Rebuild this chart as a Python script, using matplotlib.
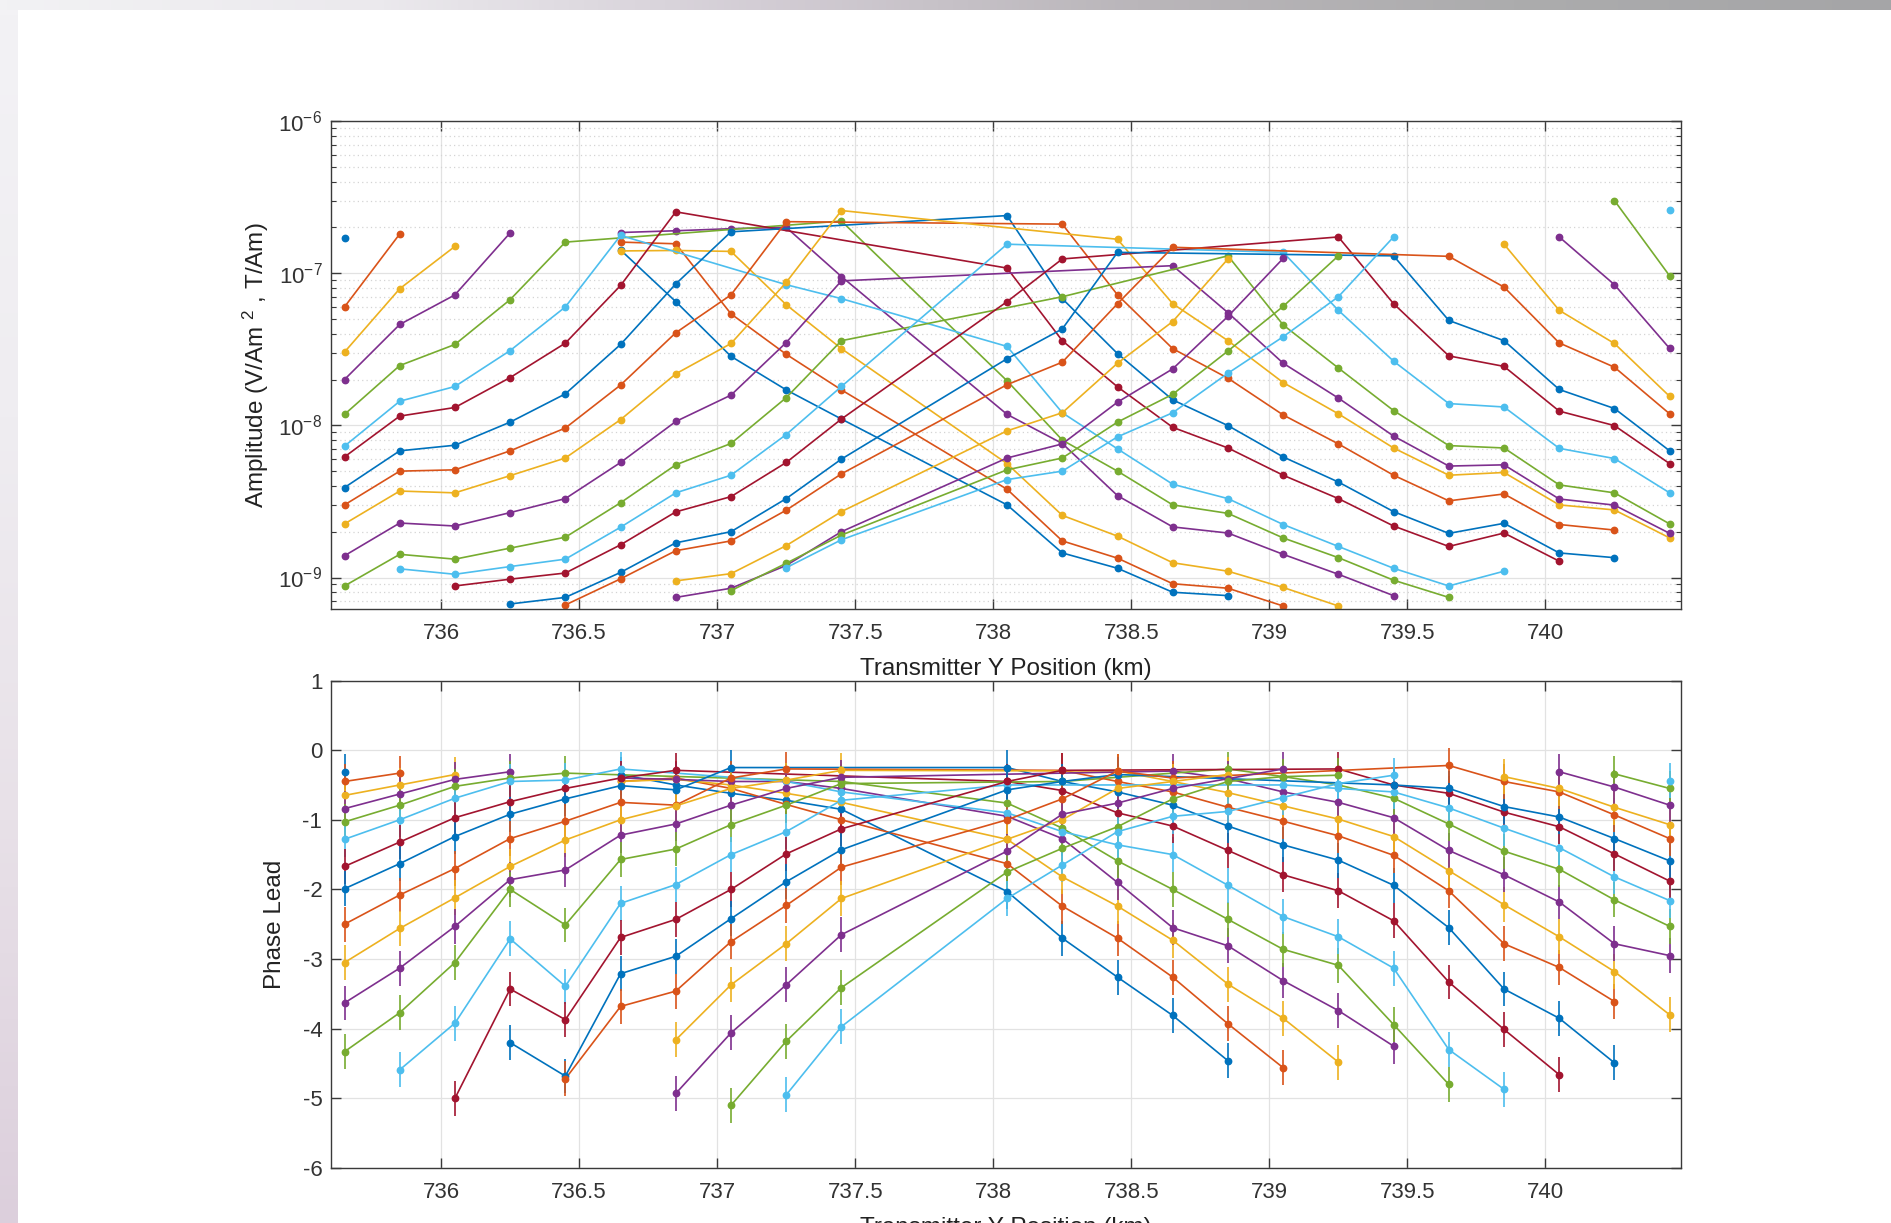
import numpy as np
import matplotlib
matplotlib.use('Agg')
import matplotlib.pyplot as plt
from matplotlib.colors import LinearSegmentedColormap
from matplotlib.ticker import FixedLocator, LogLocator, NullFormatter, StrMethodFormatter

plt.rcParams['font.family'] = ['Liberation Sans', 'DejaVu Sans']
plt.rcParams['mathtext.fontset'] = 'custom'
plt.rcParams['mathtext.rm'] = 'Liberation Sans'
plt.rcParams['mathtext.it'] = 'Liberation Sans:italic'
plt.rcParams['axes.unicode_minus'] = False

# transmitter positions (km)
positions = [735.65, 735.85, 736.05, 736.25, 736.45, 736.65, 736.85, 737.05, 737.25, 737.45,
             738.05, 738.25, 738.45, 738.65, 738.85, 739.05, 739.25, 739.45, 739.65, 739.85,
             740.05, 740.25, 740.45]

# MATLAB default colour order
colors = ['#0072BD', '#D95319', '#EDB120', '#7E2F8E', '#77AC30', '#4DBEEE', '#A2142F']

N = None
# amplitude, one row per receiver, in units of 1e-9
amplitude = [
    [170, N, N, N, N, 142, 65, 28.4, 17.1, 11.0, 3.0, 1.45, 1.15, 0.80, 0.76, N, N, N, N, N, N, N, N],
    [60, 181, N, N, N, 160, 156, 54, 29.3, 17.1, 3.8, 1.74, 1.34, 0.91, 0.85, 0.65, N, N, N, N, N, N, N],
    [30.3, 79, 150, N, N, 140, 141, 139, 62, 31.9, 5.6, 2.56, 1.87, 1.25, 1.10, 0.86, 0.65, N, N, N, N, N, N],
    [20, 46, 72, 184, N, 185, 190, 196, 200, 95, 11.8, 7.6, 3.45, 2.15, 1.96, 1.42, 1.05, 0.76, N, N, N, N, N],
    [11.8, 24.7, 34, 67, 160, N, N, N, N, 220, 19.6, 8.0, 5.0, 3.0, 2.64, 1.82, 1.35, 0.96, 0.74, N, N, N, N],
    [7.3, 14.4, 18, 31, 60, 177, N, N, 84, 68, 33, 12.1, 7.0, 4.1, 3.3, 2.23, 1.6, 1.15, 0.88, 1.1, N, N, N],
    [6.2, 11.5, 13.1, 20.6, 34.7, 83, 253, N, N, N, 108, 36, 17.9, 9.7, 7.1, 4.7, 3.3, 2.18, 1.6, 1.96, 1.28, N, N],
    [3.9, 6.8, 7.4, 10.5, 16.1, 34, 85, 187, N, N, 239, 68, 29.6, 14.7, 9.96, 6.2, 4.24, 2.71, 1.95, 2.27, 1.45, 1.35, N],
    [3.0, 5.0, 5.1, 6.8, 9.6, 18.4, 40.6, 72, 218, N, N, 210, 72, 31.9, 20.4, 11.7, 7.55, 4.7, 3.19, 3.54, 2.23, 2.05, N],
    [2.25, 3.7, 3.6, 4.67, 6.1, 10.9, 21.8, 34.5, 87, 258, N, N, 167, 63, 36, 19.1, 11.9, 7.1, 4.7, 4.9, 3.0, 2.78, 1.82],
    [1.39, 2.28, 2.18, 2.67, 3.3, 5.7, 10.6, 15.8, 35, 89, N, N, N, 112, 55, 25.6, 15.1, 8.5, 5.4, 5.5, 3.28, 2.99, 1.95],
    [0.88, 1.42, 1.32, 1.56, 1.84, 3.1, 5.5, 7.6, 15.2, 36, N, 70, N, N, 130, 45.7, 23.8, 12.5, 7.36, 7.1, 4.06, 3.6, 2.25],
    [N, 1.14, 1.05, 1.18, 1.32, 2.14, 3.6, 4.7, 8.7, 18, 155, N, N, N, N, 137, 57, 26.4, 13.9, 13.2, 7.06, 6.05, 3.6],
    [N, N, 0.88, 0.975, 1.07, 1.64, 2.7, 3.4, 5.7, 11, 65, 124, N, N, N, N, 173, 63, 28.6, 24.4, 12.4, 9.96, 5.6],
    [N, N, N, 0.67, 0.74, 1.08, 1.69, 2.0, 3.3, 6.0, 27.4, 43, 137, N, N, N, N, 130, 48.9, 36, 17.2, 12.9, 6.8],
    [N, N, N, N, 0.66, 0.98, 1.5, 1.74, 2.77, 4.8, 18.5, 26, 63, 148, N, N, N, N, 129, 81, 34.8, 24.1, 11.9],
    [N, N, N, N, N, N, 0.95, 1.06, 1.62, 2.71, 9.2, 12.1, 25.6, 48.1, 124, N, N, N, N, 155, 57, 34.5, 15.5],
    [N, N, N, N, N, N, 0.74, 0.85, 1.2, 2.0, 6.1, 7.55, 14.2, 23.5, 52, 125, N, N, N, N, 173, 84, 32],
    [N, N, N, N, N, N, N, 0.82, 1.24, 1.9, 5.1, 6.1, 10.5, 16, 30.8, 60.5, 130, N, N, N, N, 300, 96],
    [N, N, N, N, N, N, N, N, 1.16, 1.77, 4.4, 5.0, 8.4, 12.1, 22, 38.2, 70, 173, N, N, N, N, 260],
]

# phase lead, same receivers
phase = [
    [-0.31, N, N, N, N, -0.35, -0.5, -0.62, -0.72, -0.85, -2.03, -2.7, -3.26, -3.81, -4.46, N, N, N, N, N, N, N, N],
    [-0.45, -0.33, N, N, N, -0.45, -0.4, -0.55, -0.78, -1.0, -1.63, -2.24, -2.7, -3.26, -3.93, -4.56, N, N, N, N, N, N, N],
    [-0.65, -0.5, -0.35, N, N, -0.45, -0.42, -0.5, -0.62, -0.75, -1.28, -1.82, -2.24, -2.73, -3.36, -3.85, -4.48, N, N, N, N, N, N],
    [-0.84, -0.63, -0.42, -0.31, N, -0.4, -0.42, -0.45, -0.45, -0.55, -0.95, -1.27, -1.9, -2.55, -2.81, -3.31, -3.74, -4.25, N, N, N, N, N],
    [-1.03, -0.79, -0.52, -0.4, -0.33, N, N, N, N, -0.45, -0.76, -1.12, -1.59, -2.0, -2.43, -2.86, -3.09, -3.94, -4.8, N, N, N, N],
    [-1.28, -1.0, -0.69, -0.45, -0.43, -0.27, N, N, -0.45, -0.6, -0.9, -1.17, -1.36, -1.5, -1.94, -2.39, -2.68, -3.13, -4.3, -4.87, N, N, N],
    [-1.67, -1.32, -0.97, -0.74, -0.55, -0.4, -0.29, N, N, N, -0.45, -0.58, -0.9, -1.09, -1.44, -1.79, -2.02, -2.45, -3.33, -4.01, -4.66, N, N],
    [-1.99, -1.63, -1.24, -0.92, -0.7, -0.51, -0.57, -0.25, N, N, -0.25, -0.45, -0.6, -0.79, -1.09, -1.36, -1.58, -1.94, -2.55, -3.43, -3.85, -4.49, N],
    [-2.5, -2.08, -1.7, -1.27, -1.02, -0.75, -0.79, -0.4, -0.27, N, N, -0.29, -0.45, -0.6, -0.82, -1.02, -1.23, -1.51, -2.02, -2.78, -3.12, -3.61, N],
    [-3.05, -2.56, -2.12, -1.67, -1.29, -1.0, -0.8, -0.55, -0.43, -0.29, N, N, -0.3, -0.45, -0.61, -0.8, -0.99, -1.24, -1.73, -2.22, -2.68, -3.18, -3.8],
    [-3.63, -3.13, -2.53, -1.86, -1.72, -1.22, -1.06, -0.79, -0.55, -0.39, N, N, N, -0.3, -0.41, -0.6, -0.75, -0.97, -1.44, -1.79, -2.18, -2.78, -2.95],
    [-4.33, -3.77, -3.05, -2.0, -2.51, -1.57, -1.42, -1.07, -0.79, -0.48, N, -0.45, N, N, -0.27, -0.38, -0.5, -0.69, -1.06, -1.45, -1.71, -2.15, -2.53],
    [N, -4.59, -3.92, -2.71, -3.39, -2.2, -1.93, -1.5, -1.17, -0.72, -0.5, N, N, N, N, -0.5, -0.55, -0.6, -0.83, -1.12, -1.4, -1.82, -2.16],
    [N, N, -5.0, -3.43, -3.87, -2.69, -2.43, -2.0, -1.49, -1.13, -0.45, -0.29, N, N, N, N, -0.27, -0.5, -0.62, -0.89, -1.1, -1.49, -1.88],
    [N, N, N, -4.2, -4.68, -3.21, -2.96, -2.42, -1.89, -1.43, -0.57, -0.45, -0.35, N, N, N, N, -0.5, -0.55, -0.81, -0.96, -1.27, -1.59],
    [N, N, N, N, -4.72, -3.68, -3.46, -2.75, -2.23, -1.68, -1.0, -0.7, -0.3, -0.4, N, N, N, N, -0.22, -0.45, -0.6, -0.93, -1.27],
    [N, N, N, N, N, N, -4.16, -3.37, -2.78, -2.13, -1.28, -1.0, -0.55, -0.45, -0.35, N, N, N, N, -0.38, -0.55, -0.82, -1.07],
    [N, N, N, N, N, N, -4.93, -4.06, -3.37, -2.65, -1.45, -0.92, -0.76, -0.55, -0.41, -0.27, N, N, N, N, -0.31, -0.53, -0.79],
    [N, N, N, N, N, N, N, -5.1, -4.18, -3.41, -1.75, -1.41, -1.1, -0.7, -0.45, -0.38, -0.36, N, N, N, N, -0.34, -0.55],
    [N, N, N, N, N, N, N, N, -4.95, -3.97, -2.13, -1.65, -1.17, -0.95, -0.88, -0.68, -0.48, -0.36, N, N, N, N, -0.44],
]
phase_err = 0.25

# does the line join across the missing near-field positions
bridged = [False, False, False, False, True, True, True, True, True, True,
           True, True, True, True, True, True, False, False, False, False]

xticks = [736, 736.5, 737, 737.5, 738, 738.5, 739, 739.5, 740]


def segments(row, join):
    idx = [i for i, v in enumerate(row) if v is not None]
    if join:
        return [idx]
    segs, cur = [], [idx[0]]
    for i in idx[1:]:
        if i == cur[-1] + 1:
            cur.append(i)
        else:
            segs.append(cur)
            cur = [i]
    segs.append(cur)
    return segs


fig = plt.figure(figsize=(18.91, 12.23), dpi=100)
fig.patch.set_facecolor('white')

# screenshot frame: grey bar on top and a pale strip on the left
band = fig.add_axes([0, 1 - 10 / 1223, 1, 10 / 1223])
band_cmap = LinearSegmentedColormap.from_list('band', ['#f2f2f4', '#ebe9ed', '#d3cdd5', '#bab6ba', '#acacad', '#a5a5a7'])
band.imshow(np.linspace(0, 1, 256)[None, :], aspect='auto', cmap=band_cmap)
band.axis('off')
strip = fig.add_axes([0, 0, 18 / 1891, 1 - 10 / 1223])
strip_cmap = LinearSegmentedColormap.from_list('strip', ['#f3f2f5', '#efedf1', '#e8e1e8', '#dccfdc'])
strip.imshow(np.linspace(0, 1, 256)[:, None], aspect='auto', cmap=strip_cmap)
strip.axis('off')

left, width = 330.7 / 1891, 1350 / 1891
ax1 = fig.add_axes([left, 1 - 609 / 1223, width, 488 / 1223])
ax2 = fig.add_axes([left, 1 - 1168 / 1223, width, 487.5 / 1223])

lw, ms = 1.2, 4.6
for k in range(len(amplitude)):
    c = colors[k % 7]
    row = amplitude[k]
    for seg in segments(row, bridged[k]):
        ax1.plot([positions[i] for i in seg], [row[i] * 1e-9 for i in seg], '-', color=c, lw=lw)
    idx = [i for i, v in enumerate(row) if v is not None]
    ax1.plot([positions[i] for i in idx], [row[i] * 1e-9 for i in idx], 'o', color=c, ms=ms, ls='none')

for k in range(len(phase)):
    c = colors[k % 7]
    row = phase[k]
    for seg in segments(row, bridged[k]):
        ax2.plot([positions[i] for i in seg], [row[i] for i in seg], '-', color=c, lw=lw)
    idx = [i for i, v in enumerate(row) if v is not None]
    ax2.errorbar([positions[i] for i in idx], [row[i] for i in idx], yerr=phase_err,
                 fmt='o', color=c, ms=ms, elinewidth=lw, capsize=0)

edge = '#3a3a3a'
for ax in (ax1, ax2):
    ax.set_xlim(735.6, 740.49)
    ax.xaxis.set_major_locator(FixedLocator(xticks))
    ax.xaxis.set_major_formatter(StrMethodFormatter('{x:g}'))
    ax.tick_params(which='both', direction='in', top=True, right=True, colors=edge,
                   labelcolor='#333333', labelsize=16)
    ax.tick_params(which='major', length=7, width=1.0)
    ax.tick_params(which='minor', length=3.5, width=0.8)
    ax.tick_params(axis='x', pad=10)
    ax.tick_params(axis='y', pad=6)
    for s in ax.spines.values():
        s.set_color(edge)
        s.set_linewidth(1.0)
    ax.set_axisbelow(True)
    ax.grid(True, which='major', color='#e2e2e2', lw=0.9)
    ax.set_xlabel('Transmitter Y Position (km)', fontsize=17.5, color='#222222', labelpad=10)

ax1.set_yscale('log')
ax1.set_ylim(10 ** -9.207, 1e-6)
ax1.yaxis.set_major_locator(LogLocator(base=10, numticks=10))
ax1.yaxis.set_minor_locator(LogLocator(base=10, subs=np.arange(2, 10), numticks=20))
ax1.yaxis.set_minor_formatter(NullFormatter())
ax1.grid(True, which='minor', axis='y', color='#d4d4d4', lw=0.9, ls=(0, (1, 2.5)))
ax1.set_ylabel('Amplitude (V/Am $^{2}$ , T/Am)', fontsize=17.5, color='#222222', labelpad=5)

ax2.set_ylim(-6, 1)
ax2.set_yticks(range(-6, 2))
ax2.set_ylabel('Phase Lead', fontsize=17.5, color='#222222', labelpad=12)

fig.savefig('out.png', dpi=100, facecolor='white')
